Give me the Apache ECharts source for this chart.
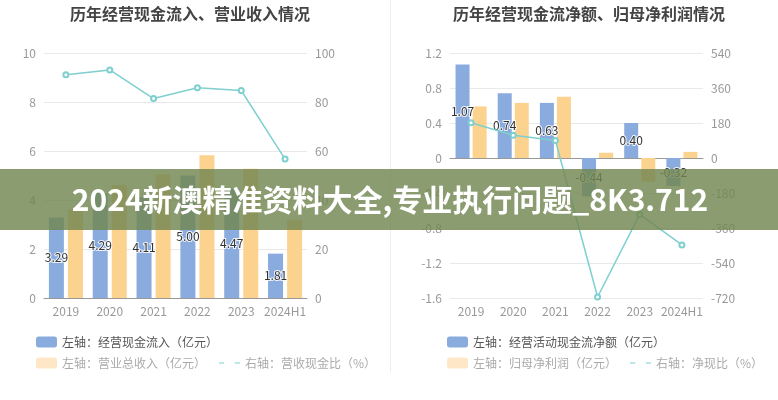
<!DOCTYPE html>
<html>
<head>
<meta charset="utf-8">
<script src="https://cdn.jsdelivr.net/npm/echarts@6/dist/echarts.min.js"></script>
<style>html,body{margin:0;padding:0;background:#fff;}#c{width:778px;height:400px;}</style>
</head>
<body>
<div id="c"></div>
<script>
// ---- data ----
var categories = ['2019', '2020', '2021', '2022', '2023', '2024H1'];
// left chart
var cashInflow = [3.29, 4.29, 4.11, 5.00, 4.47, 1.81];       // 经营现金流入（亿元）
var revenue = [3.61, 4.61, 5.05, 5.83, 5.28, 3.19];          // 营业总收入（亿元）
var cashRevenueRatio = [91.1, 93.1, 81.4, 85.8, 84.7, 56.7]; // 营收现金比（%）
// right chart
var netCashFlow = [1.07, 0.74, 0.63, -0.44, 0.40, -0.32];    // 经营活动现金流净额（亿元）
var netProfit = [0.59, 0.63, 0.70, 0.06, -0.27, 0.07];       // 归母净利润（亿元）
var netCashRatio = [181, 117, 90, -715, -290, -447];         // 净现比（%）
// tick settings
var leftTicks = {min: 0, max: 10, interval: 2};
var leftRightTicks = {min: 0, max: 100, interval: 20};
var rightTicks = {min: -1.6, max: 1.2, interval: 0.4};
var rightRightTicks = {min: -720, max: 540, interval: 180};

var FONT = '"Noto Sans CJK SC", "Noto Sans", sans-serif';
var BLUE = '#8AABDD', ORANGE = '#FCD28F', TEAL = '#7FCFCF';
var axisLabel = {color: '#999', fontSize: 12, fontFamily: FONT};

function valAxis(grid, t, pos, fmt) {
  return {
    type: 'value', gridIndex: grid, position: pos,
    min: t.min, max: t.max, interval: t.interval,
    axisLine: {show: false}, axisTick: {show: false},
    axisLabel: Object.assign({margin: 8, formatter: fmt}, axisLabel),
    splitLine: {show: pos === 'left', lineStyle: {color: '#e9e9e9'}}
  };
}
function fmtNum(v) { return String(Math.round(v * 100) / 100); }

var barLabel = {
  show: true, position: 'inside', color: '#333', fontSize: 12, fontFamily: FONT,
  textBorderColor: 'rgba(255,255,255,0.85)', textBorderWidth: 2,
  formatter: function (p) { return p.value.toFixed(2); }
};

var chart = echarts.init(document.getElementById('c'), null, {renderer: 'canvas'});
chart.setOption({
  backgroundColor: '#fff',
  animation: false,
  grid: [
    {left: 44, top: 53, width: 263, height: 245},
    {left: 450, top: 53, width: 253, height: 245}
  ],
  xAxis: [
    {type: 'category', gridIndex: 0, data: categories,
      axisLine: {lineStyle: {color: '#999'}},
      axisTick: {alignWithLabel: true, length: 4, lineStyle: {color: '#999'}},
      axisLabel: Object.assign({margin: 7, interval: 0}, axisLabel)},
    {type: 'category', gridIndex: 1, data: categories,
      axisLine: {onZero: true, lineStyle: {color: '#999'}},
      axisTick: {alignWithLabel: true, length: 4, lineStyle: {color: '#999'}},
      axisLabel: {show: false}},
    {type: 'category', gridIndex: 1, data: categories, position: 'bottom',
      axisLine: {show: false, onZero: false}, axisTick: {show: false},
      axisLabel: Object.assign({margin: 7, interval: 0}, axisLabel)}
  ],
  yAxis: [
    valAxis(0, leftTicks, 'left', fmtNum),
    valAxis(0, leftRightTicks, 'right', fmtNum),
    valAxis(1, rightTicks, 'left', fmtNum),
    valAxis(1, rightRightTicks, 'right', fmtNum)
  ],
  legend: [
    {left: 31, top: 331, itemWidth: 21, itemHeight: 11, icon: 'roundRect',
      textStyle: {color: '#555', fontSize: 12, fontFamily: FONT},
      data: ['左轴：经营现金流入（亿元）']},
    {left: 31, top: 352, itemWidth: 21, itemHeight: 11, itemGap: 12,
      textStyle: {color: '#aaa', fontSize: 12, fontFamily: FONT},
      data: [
        {name: '左轴：营业总收入（亿元）', icon: 'roundRect', itemStyle: {color: '#FDE7C6'}},
        {name: '右轴：营收现金比（%）', itemStyle: {color: '#fff', borderColor: '#BFE6E6'}, lineStyle: {color: '#BFE6E6'}}
      ]},
    {left: 442, top: 331, itemWidth: 21, itemHeight: 11, icon: 'roundRect',
      textStyle: {color: '#555', fontSize: 12, fontFamily: FONT},
      data: ['左轴：经营活动现金流净额（亿元）']},
    {left: 442, top: 352, itemWidth: 21, itemHeight: 11, itemGap: 12,
      textStyle: {color: '#aaa', fontSize: 12, fontFamily: FONT},
      data: [
        {name: '左轴：归母净利润（亿元）', icon: 'roundRect', itemStyle: {color: '#FDE7C6'}},
        {name: '右轴：净现比（%）', itemStyle: {color: '#fff', borderColor: '#BFE6E6'}, lineStyle: {color: '#BFE6E6'}}
      ]}
  ],
  series: [
    {name: '左轴：经营现金流入（亿元）', type: 'bar', xAxisIndex: 0, yAxisIndex: 0,
      data: cashInflow, barWidth: 15, barGap: '27%', itemStyle: {color: BLUE}, label: barLabel, z: 2},
    {name: '左轴：营业总收入（亿元）', type: 'bar', xAxisIndex: 0, yAxisIndex: 0,
      data: revenue, barWidth: 15, barGap: '27%', itemStyle: {color: ORANGE}},
    {name: '右轴：营收现金比（%）', type: 'line', xAxisIndex: 0, yAxisIndex: 1,
      data: cashRevenueRatio, symbol: 'emptyCircle', symbolSize: 5,
      lineStyle: {color: TEAL, width: 1.5}, itemStyle: {color: TEAL}, z: 5},
    {name: '左轴：经营活动现金流净额（亿元）', type: 'bar', xAxisIndex: 1, yAxisIndex: 2,
      data: netCashFlow, barWidth: 14, barGap: '22%', itemStyle: {color: BLUE}, label: barLabel, z: 2},
    {name: '左轴：归母净利润（亿元）', type: 'bar', xAxisIndex: 1, yAxisIndex: 2,
      data: netProfit, barWidth: 14, barGap: '22%', itemStyle: {color: ORANGE}},
    {name: '右轴：净现比（%）', type: 'line', xAxisIndex: 1, yAxisIndex: 3,
      data: netCashRatio, symbol: 'emptyCircle', symbolSize: 5,
      lineStyle: {color: TEAL, width: 1.5}, itemStyle: {color: TEAL}, z: 5}
  ],
  graphic: [
    {type: 'line', shape: {x1: 390.5, y1: 0, x2: 390.5, y2: 372}, style: {stroke: '#eeeeee', lineWidth: 1}, z: 1},
    {type: 'text', x: 190, y: 14, z: 10,
      style: {text: '历年经营现金流入、营业收入情况', fill: '#444', font: 'bold 16px ' + FONT, textAlign: 'center', textVerticalAlign: 'middle'}},
    {type: 'text', x: 589, y: 14, z: 10,
      style: {text: '历年经营现金流净额、归母净利润情况', fill: '#444', font: 'bold 16px ' + FONT, textAlign: 'center', textVerticalAlign: 'middle'}},
    {type: 'rect', shape: {x: 0, y: 169, width: 778, height: 61}, style: {fill: 'rgba(114,134,80,0.82)'}, z: 100},
    {type: 'text', x: 390, y: 200, z: 101,
      style: {text: '2024新澳精准资料大全,专业执行问题_8K3.712', fill: '#fff', font: 'bold 30px ' + FONT, textAlign: 'center', textVerticalAlign: 'middle'}}
  ]
});
</script>
</body>
</html>
